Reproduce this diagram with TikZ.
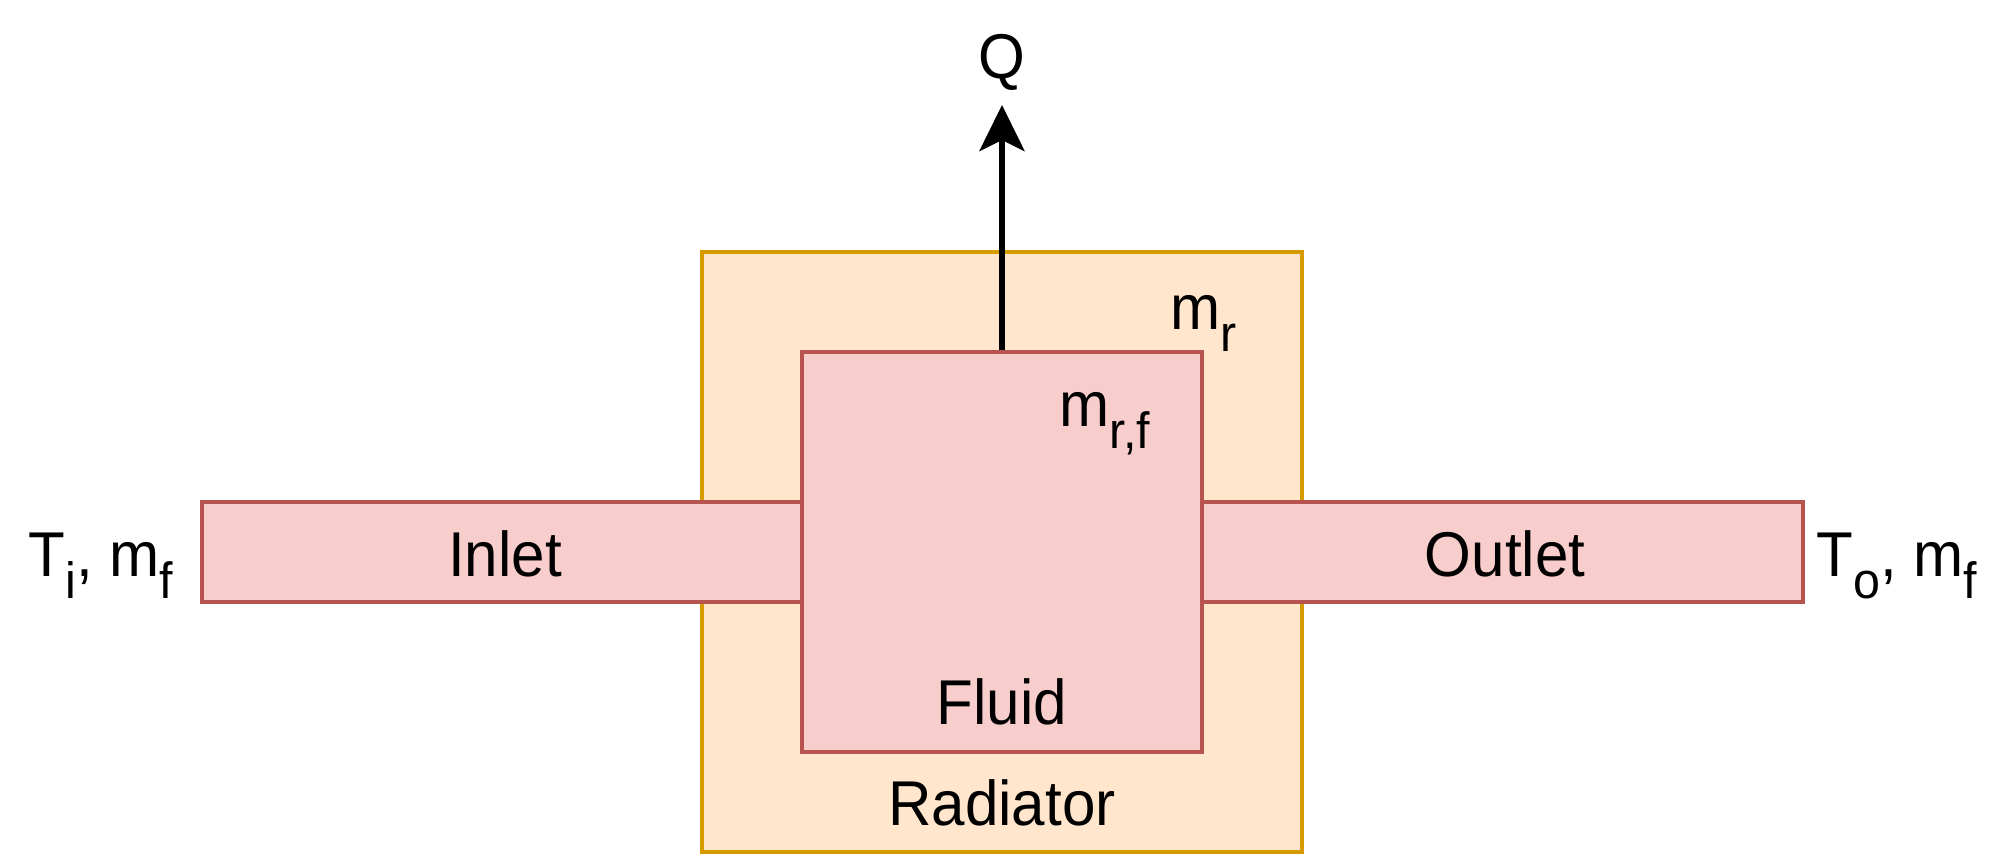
\documentclass[tikz,border=0pt]{standalone}
\usepackage{fontspec}
\setmainfont[FakeStretch=0.95]{Liberation Sans}
\usetikzlibrary{arrows.meta}
\definecolor{radfill}{HTML}{FFE6CC}
\definecolor{radline}{HTML}{D79B00}
\definecolor{flfill}{HTML}{F8CECC}
\definecolor{flline}{HTML}{B85450}
\newcommand\mysub[1]{\raisebox{-0.34em}{\fontsize{14.5}{15}\selectfont #1}}
\tikzset{
  radbox/.style={draw=radline, fill=radfill, line width=1.3pt, inner sep=0pt},
  flbox/.style={draw=flline, fill=flfill, line width=1.3pt, inner sep=0pt},
  lbl/.style={font=\fontsize{18}{20}\selectfont, inner sep=0pt, anchor=base},
  heat/.style={line width=1.6pt, -{Stealth[length=0.46cm,width=0.45cm,inset=0.11cm]}}
}
\begin{document}
\begin{tikzpicture}[x=0.01cm,y=-0.01cm]
\useasboundingbox (0,0) rectangle (2005,855);
\node[radbox, minimum width=6cm, minimum height=6cm] (rad) at (1002,552) {};
\node[flbox, minimum width=6cm, minimum height=1cm] (inlet) at (502,552) {};
\node[flbox, minimum width=6.01cm, minimum height=1cm] (outlet) at (1502.5,552) {};
\node[flbox, minimum width=4cm, minimum height=4cm] (fluid) at (1002,552) {};
\coordinate (qtip) at (1002,105);
\draw[heat] (fluid.north) -- (qtip);
\node[lbl] (q) at (1002,79) {Q};
\node[lbl, anchor=base west] (mr) at (1170,330) {m\mysub{r}};
\node[lbl, anchor=base west] (mrf) at (1059,427) {m\mysub{r,f}};
\node[lbl] (inl) at (505,577) {Inlet};
\node[lbl] (outl) at (1505,577) {Outlet};
\node[lbl] (fl) at (1002,725) {Fluid};
\node[lbl] (radt) at (1002,826) {Radiator};
\node[lbl, anchor=base west] (ti) at (28,577) {T\mysub{i}, m\mysub{f}};
\node[lbl, anchor=base west] (to) at (1816,577) {T\mysub{o}, m\mysub{f}};
\end{tikzpicture}
\end{document}
